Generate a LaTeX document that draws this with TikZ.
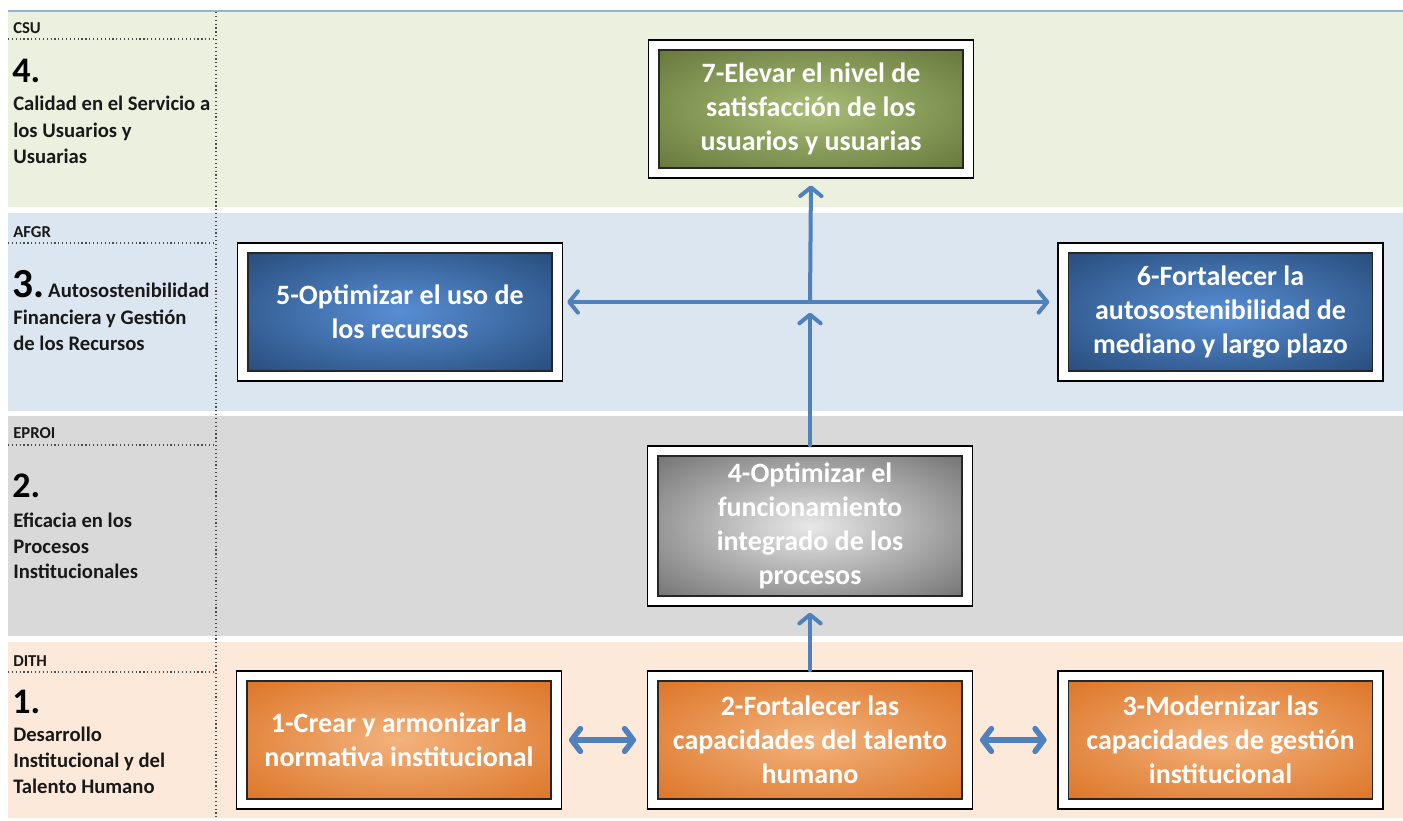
\documentclass[tikz,border=0pt]{standalone}
\usepackage{fontspec}
\setmainfont{Carlito}
\usetikzlibrary{arrows.meta}
\definecolor{bandA}{RGB}{235,241,222}
\definecolor{bandB}{RGB}{220,230,241}
\definecolor{bandC}{RGB}{217,217,217}
\definecolor{bandD}{RGB}{253,233,217}
\definecolor{topline}{RGB}{149,179,215}
\definecolor{arrowblue}{RGB}{79,129,189}
\definecolor{grnIn}{RGB}{170,190,120}
\definecolor{grnOut}{RGB}{82,101,42}
\definecolor{bluIn}{RGB}{88,142,212}
\definecolor{bluOut}{RGB}{25,58,98}
\definecolor{gryIn}{RGB}{232,232,232}
\definecolor{gryOut}{RGB}{82,82,82}
\definecolor{orgIn}{RGB}{243,178,124}
\definecolor{orgOut}{RGB}{214,100,16}
\pgfdeclareradialshading{glowG}{\pgfpoint{0bp}{0bp}}{color(0bp)=(grnIn); color(46bp)=(grnOut); color(60bp)=(grnOut)}
\pgfdeclareradialshading{glowB}{\pgfpoint{0bp}{0bp}}{color(0bp)=(bluIn); color(46bp)=(bluOut); color(60bp)=(bluOut)}
\pgfdeclareradialshading{glowK}{\pgfpoint{0bp}{0bp}}{color(0bp)=(gryIn); color(46bp)=(gryOut); color(60bp)=(gryOut)}
\pgfdeclareradialshading{glowO}{\pgfpoint{0bp}{0bp}}{color(0bp)=(orgIn); color(46bp)=(orgOut); color(60bp)=(orgOut)}
\newcommand\boxfont{\bfseries\fontsize{21}{25.5}\selectfont}
\newcommand\lblfont{\bfseries\fontsize{15.5}{20}\selectfont}
\newcommand\codefont{\bfseries\fontsize{12.5}{13}\selectfont}
\newcommand\numfont{\bfseries\fontsize{27}{28}\selectfont}
\begin{document}
\begin{tikzpicture}[x=0.75pt,y=-0.75pt,
  frame/.style={draw=black, line width=1.1pt, fill=white, minimum width=243.75pt, minimum height=103.5pt, inner sep=0pt},
  tallframe/.style={frame, minimum height=120pt},
  goal/.style={draw=black!85, line width=1.1pt, minimum width=228pt, minimum height=88.5pt, inner sep=0pt,
    text=white, align=center, font=\boxfont},
  tallgoal/.style={goal, minimum height=105pt},
  grn/.style={shading=glowG},
  blu/.style={shading=glowB},
  gry/.style={shading=glowK},
  org/.style={shading=glowO},
  lbl/.style={anchor=base west, inner sep=0pt, font=\lblfont, text=black!90},
  code/.style={anchor=base west, inner sep=0pt, font=\codefont, text=black!90},
  num/.style={anchor=base west, inner sep=0pt, font=\numfont, text=black},
  sep/.style={dotted, line width=0.9pt, black!70},
  arr/.style={draw=arrowblue, line width=3pt, line cap=round, line join=round,
    -{Straight Barb[length=6.5pt,width=16pt,round]}},
  biarr/.style={draw=arrowblue, line width=3pt, line cap=round, line join=round,
    {Straight Barb[length=6.5pt,width=16pt,round]}-{Straight Barb[length=6.5pt,width=16pt,round]}},
  dbl/.style={draw=arrowblue, line width=4.2pt, line cap=round, line join=round,
    {Straight Barb[length=6.5pt,width=17pt,round]}-{Straight Barb[length=6.5pt,width=17pt,round]}}
]
\useasboundingbox (0,0) rectangle (1403,821);
\fill[white] (0,0) rectangle (1403,821);
% bands
\fill[bandA] (8,12) rectangle (1403,207);
\fill[bandB] (8,213) rectangle (1403,411);
\fill[bandC] (8,416) rectangle (1403,636);
\fill[bandD] (8,642) rectangle (1403,818);
\draw[topline, line width=1.6pt] (8,11) -- (1403,11);
% separators
\draw[sep] (216,12) -- (216,818);
\draw[sep] (8,39) -- (216,39);
\draw[sep] (8,243) -- (216,243);
\draw[sep] (8,445) -- (216,445);
\draw[sep] (8,672) -- (216,672);
% left labels
\node[code] (c4) at (13,33) {CSU};
\node[num] (n4) at (12,82) {4.};
\node[lbl] (t4a) at (13,110) {Calidad en el Servicio a};
\node[lbl] (t4b) at (13,137) {los Usuarios y};
\node[lbl] (t4c) at (13,163) {Usuarias};
\node[code] (c3) at (13,237) {AFGR};
\node[num, font=\bfseries\fontsize{31}{32}\selectfont] (n3) at (12,297) {3.};
\node[lbl, anchor=base west] (t3a) at (n3.base east) {\,Autosostenibilidad};
\node[lbl] (t3b) at (13,324) {Financiera y Gestión};
\node[lbl] (t3c) at (13,350) {de los Recursos};
\node[code] (c2) at (13,438) {EPROI};
\node[num] (n2) at (12,497) {2.};
\node[lbl] (t2a) at (13,527) {Eficacia en los};
\node[lbl] (t2b) at (13,553) {Procesos};
\node[lbl] (t2c) at (13,578) {Institucionales};
\node[code] (c1) at (13,666) {DITH};
\node[num] (n1) at (12,713) {1.};
\node[lbl] (t1a) at (13,741) {Desarrollo};
\node[lbl] (t1b) at (13,767) {Institucional y del};
\node[lbl] (t1c) at (13,793) {Talento Humano};
% boxes
\node[frame] (o7) at (811,109) {};
\node[goal, grn] (b7) at (811,109) {7-Elevar el nivel de\\satisfacción de los\\usuarios y usuarias};
\node[frame] (o5) at (400,312) {};
\node[goal, blu] (b5) at (400,312) {5-Optimizar el uso de\\los recursos};
\node[frame] (o6) at (1220.5,312) {};
\node[goal, blu] (b6) at (1220.5,312) {6-Fortalecer la\\autosostenibilidad de\\mediano y largo plazo};
\node[tallframe] (o4) at (810,526) {};
\node[tallgoal, gry] (b4) at (810,526) {4-Optimizar el\\funcionamiento\\integrado de los\\procesos};
\node[frame] (o1) at (399,740) {};
\node[goal, org] (b1) at (399,740) {1-Crear y armonizar la\\normativa institucional};
\node[frame] (o2) at (810,740) {};
\node[goal, org] (b2) at (810,740) {2-Fortalecer las\\capacidades del talento\\humano};
\node[frame] (o3) at (1220.5,740) {};
\node[goal, org] (b3) at (1220.5,740) {3-Modernizar las\\capacidades de gestión\\institucional};
% connectors
\coordinate (hub) at (810,302);
\draw[arr, shorten >=8pt] (o4.north) -- (hub);
\draw[arr, shorten >=5pt] (hub) -- (o7.south);
\draw[arr, shorten >=4.5pt] (o2.north) -- (o4.south);
\draw[biarr, shorten <=3pt, shorten >=6pt] (o5.east |- hub) -- (o6.west |- hub);
\draw[dbl, shorten <=5pt, shorten >=8pt] (o1.east) -- (o2.west);
\draw[dbl, shorten <=5pt, shorten >=8pt] (o2.east) -- (o3.west);
\end{tikzpicture}
\end{document}
